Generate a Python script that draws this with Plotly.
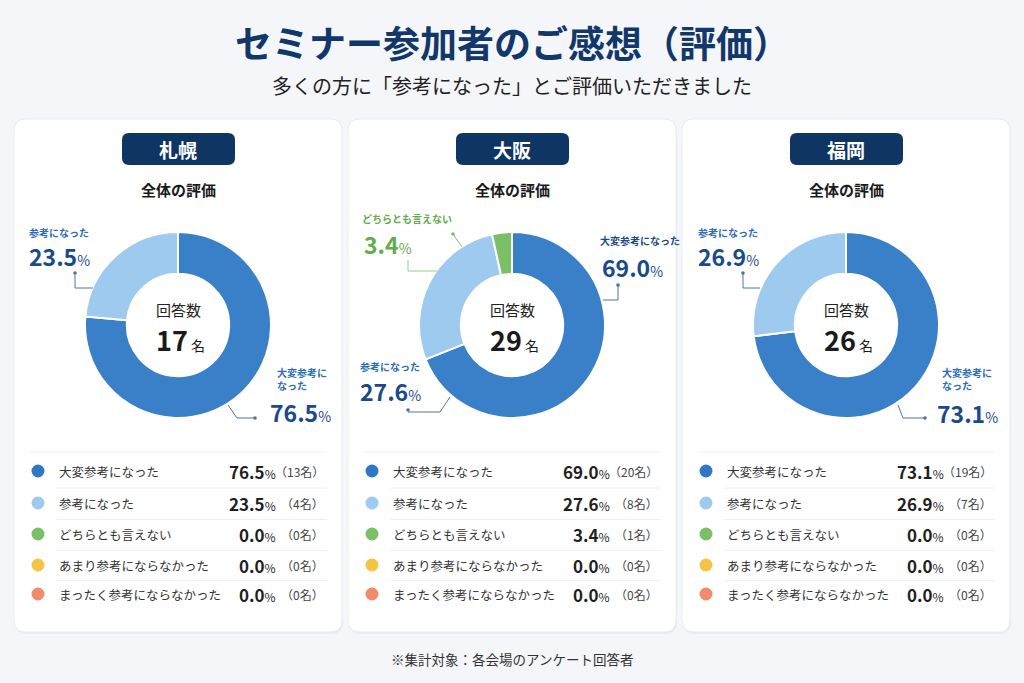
import plotly.graph_objects as go

W, H = 1024, 683
FONT = "Noto Sans CJK JP"

# data
categories = ['大変参考になった', '参考になった', 'どちらとも言えない',
              'あまり参考にならなかった', 'まったく参考にならなかった']
venues = ['札幌', '大阪', '福岡']
sapporo_counts = [13, 4, 0, 0, 0]
osaka_counts = [20, 8, 1, 0, 0]
fukuoka_counts = [19, 7, 0, 0, 0]
sapporo_pct = [76.5, 23.5, 0.0, 0.0, 0.0]
osaka_pct = [69.0, 27.6, 3.4, 0.0, 0.0]
fukuoka_pct = [73.1, 26.9, 0.0, 0.0, 0.0]
respondents = [17, 29, 26]

colors = ['#3a80c9', '#9dcaee', '#7cbf67', '#f4c444', '#f08b6b']
NAVY = '#12386a'


def px(x):
    return x / W


def py(y):
    return 1 - y / H


def rounded_rect(x0, y0, x1, y1, r):
    rx, ry = r / W, r / H
    X0, X1 = px(x0), px(x1)
    Y0, Y1 = py(y0), py(y1)  # Y0 top, Y1 bottom
    return (f"M{X0+rx},{Y0} L{X1-rx},{Y0} Q{X1},{Y0} {X1},{Y0-ry} "
            f"L{X1},{Y1+ry} Q{X1},{Y1} {X1-rx},{Y1} L{X0+rx},{Y1} "
            f"Q{X0},{Y1} {X0},{Y1+ry} L{X0},{Y0-ry} Q{X0},{Y0} {X0+rx},{Y0} Z")


def polyline(pts):
    return "M" + " L".join(f"{px(x)},{py(y)}" for x, y in pts)


fig = go.Figure()
shapes = []
annotations = []

# title + subtitle + footnote
annotations.append(dict(x=0.5, y=py(42), text='<b>セミナー参加者のご感想（評価）</b>',
                        font=dict(size=37, color=NAVY)))
annotations.append(dict(x=0.5, y=py(86), text='多くの方に「参考になった」とご評価いただきました',
                        font=dict(size=20, color='#222222')))
annotations.append(dict(x=0.5, y=py(659), text='※集計対象：各会場のアンケート回答者',
                        font=dict(size=13.5, color='#333333')))

panel_left = [14, 348, 682]
panel_w = 328
counts_all = [sapporo_counts, osaka_counts, fukuoka_counts]
pct_all = [sapporo_pct, osaka_pct, fukuoka_pct]

# callout layouts per venue: (category idx, label, label pos, pct pos, line pts, dot, colours)
BLUE_TXT = '#2c6cb8'
PCT_TXT = '#1b4a8a'
LINE_C = '#4f74a0'
GREEN = '#62ad4c'
callouts = [
    [
        (1, '参考になった', (27, 232), (27, 256), [(75, 273), (75, 288), (93, 288)], (75, 273), BLUE_TXT, PCT_TXT, LINE_C),
        (0, '大変参考に<br>なった', (275, 379), (268, 412), [(228, 405), (237, 418), (255, 418)], (255, 418), BLUE_TXT, PCT_TXT, LINE_C),
    ],
    [
        (2, 'どちらとも言えない', (360, 218), (362, 244), [(453, 234), (462, 247)], (453, 234), GREEN, GREEN, '#7cbf67'),
        (0, '大変参考になった', (598, 241), (600, 267), [(618, 285), (618, 300), (603, 300)], (618, 285), PCT_TXT, PCT_TXT, LINE_C),
        (1, '参考になった', (358, 366), (358, 391), [(450, 397), (440, 412), (408, 412)], (408, 410), BLUE_TXT, PCT_TXT, LINE_C),
    ],
    [
        (1, '参考になった', (696, 232), (696, 256), [(743, 273), (743, 288), (760, 288)], (743, 273), BLUE_TXT, PCT_TXT, LINE_C),
        (0, '大変参考に<br>なった', (940, 379), (935, 413), [(898, 405), (903, 418), (925, 418)], (925, 418), BLUE_TXT, PCT_TXT, LINE_C),
    ],
]

for i, venue in enumerate(venues):
    left = panel_left[i]
    cx = left + panel_w / 2
    counts = counts_all[i]
    pcts = pct_all[i]

    # panel card with faint shadow
    shapes.append(dict(type='path', path=rounded_rect(left + 1, 121, left + panel_w + 1, 634, 12),
                       fillcolor='rgba(30,50,90,0.05)', line=dict(width=0), layer='below'))
    shapes.append(dict(type='path', path=rounded_rect(left, 119, left + panel_w, 632, 12),
                       fillcolor='white', line=dict(color='#e9edf3', width=1), layer='below'))
    # venue badge
    shapes.append(dict(type='path', path=rounded_rect(cx - 56, 133, cx + 57, 165, 7),
                       fillcolor='#0f3562', line=dict(width=0), layer='below'))
    annotations.append(dict(x=px(cx), y=py(149), text=f'<b>{venue}</b>',
                            font=dict(size=19, color='white')))
    annotations.append(dict(x=px(cx), y=py(189), text='<b>全体の評価</b>',
                            font=dict(size=15, color='#1a1a1a')))

    # donut
    r = 93
    cy = 325
    fig.add_trace(go.Pie(
        labels=categories, values=counts, sort=False, direction='clockwise',
        hole=0.55, marker=dict(colors=colors, line=dict(color='white', width=2)),
        textinfo='none', showlegend=False,
        domain=dict(x=[px(cx - r), px(cx + r)], y=[py(cy + r), py(cy - r)]),
        hovertemplate='%{label}: %{value}名<extra></extra>'
    ))
    annotations.append(dict(x=px(cx), y=py(309), text='回答数',
                            font=dict(size=15, color='#222222')))
    annotations.append(dict(x=px(cx + 2), y=py(339),
                            text=f"<b>{respondents[i]}</b><span style='font-size:14px'> 名</span>",
                            font=dict(size=27, color='#1a1a1a')))

    # callouts
    for idx, lab, lpos, ppos, pts, dot, lcol, pcol, linec in callouts[i]:
        annotations.append(dict(x=px(lpos[0]), y=py(lpos[1]), xanchor='left', align='left',
                                text=f'<b>{lab}</b>', font=dict(size=10, color=lcol)))
        annotations.append(dict(x=px(ppos[0]), y=py(ppos[1]), xanchor='left',
                                text=f"<b>{pcts[idx]:.1f}</b><span style='font-size:14px'>%</span>",
                                font=dict(size=23, color=pcol)))
        shapes.append(dict(type='path', path=polyline(pts), line=dict(color=linec, width=1)))
        shapes.append(dict(type='circle', x0=px(dot[0] - 1.8), x1=px(dot[0] + 1.8),
                           y0=py(dot[1] + 1.8), y1=py(dot[1] - 1.8),
                           fillcolor=linec, line=dict(width=0)))

    # extra leader line seen in Osaka
    if i == 1:
        shapes.append(dict(type='path', path=polyline([(408, 260), (408, 271), (437, 271)]),
                           line=dict(color='#9bc98c', width=1)))

    # legend table
    shapes.append(dict(type='line', x0=px(left + 16), x1=px(left + 312), y0=py(452), y1=py(452),
                       line=dict(color='#eef0f3', width=1)))
    row_y = [471, 503, 534, 565, 594]
    for k, cat in enumerate(categories):
        y = row_y[k]
        shapes.append(dict(type='circle', x0=px(left + 17.5), x1=px(left + 30.5),
                           y0=py(y + 6.5), y1=py(y - 6.5), fillcolor=colors[k] if k else '#2f78c4',
                           line=dict(width=0)))
        annotations.append(dict(x=px(left + 43), y=py(y), xanchor='left', text=cat,
                                font=dict(size=12.5, color='#333333')))
        annotations.append(dict(x=px(left + 264), y=py(y), xanchor='right',
                                text=f"<b>{pcts[k]:.1f}</b><span style='font-size:12px'>%</span>",
                                font=dict(size=17, color='#1f1f1f')))
        annotations.append(dict(x=px(left + 312), y=py(y), xanchor='right',
                                text=f'（{counts[k]}名）', font=dict(size=12, color='#444444')))
        if k < 4:
            sy = (row_y[k] + row_y[k + 1]) / 2 + 1
            shapes.append(dict(type='line', x0=px(left + 42), x1=px(left + 313), y0=py(sy), y1=py(sy),
                               line=dict(color='#eef0f3', width=1)))

for a in annotations:
    a.update(xref='paper', yref='paper', showarrow=False)
    a.setdefault('xanchor', 'center')
    a.setdefault('yanchor', 'middle')
for s in shapes:
    s.update(xref='paper', yref='paper')

fig.update_layout(
    width=W, height=H,
    margin=dict(l=0, r=0, t=0, b=0),
    paper_bgcolor='#f4f6fa',
    plot_bgcolor='#f4f6fa',
    font=dict(family=FONT),
    shapes=shapes,
    annotations=annotations,
)

fig.write_html("out.html", config={'displayModeBar': False},
               post_script="document.body.style.margin='0';")
